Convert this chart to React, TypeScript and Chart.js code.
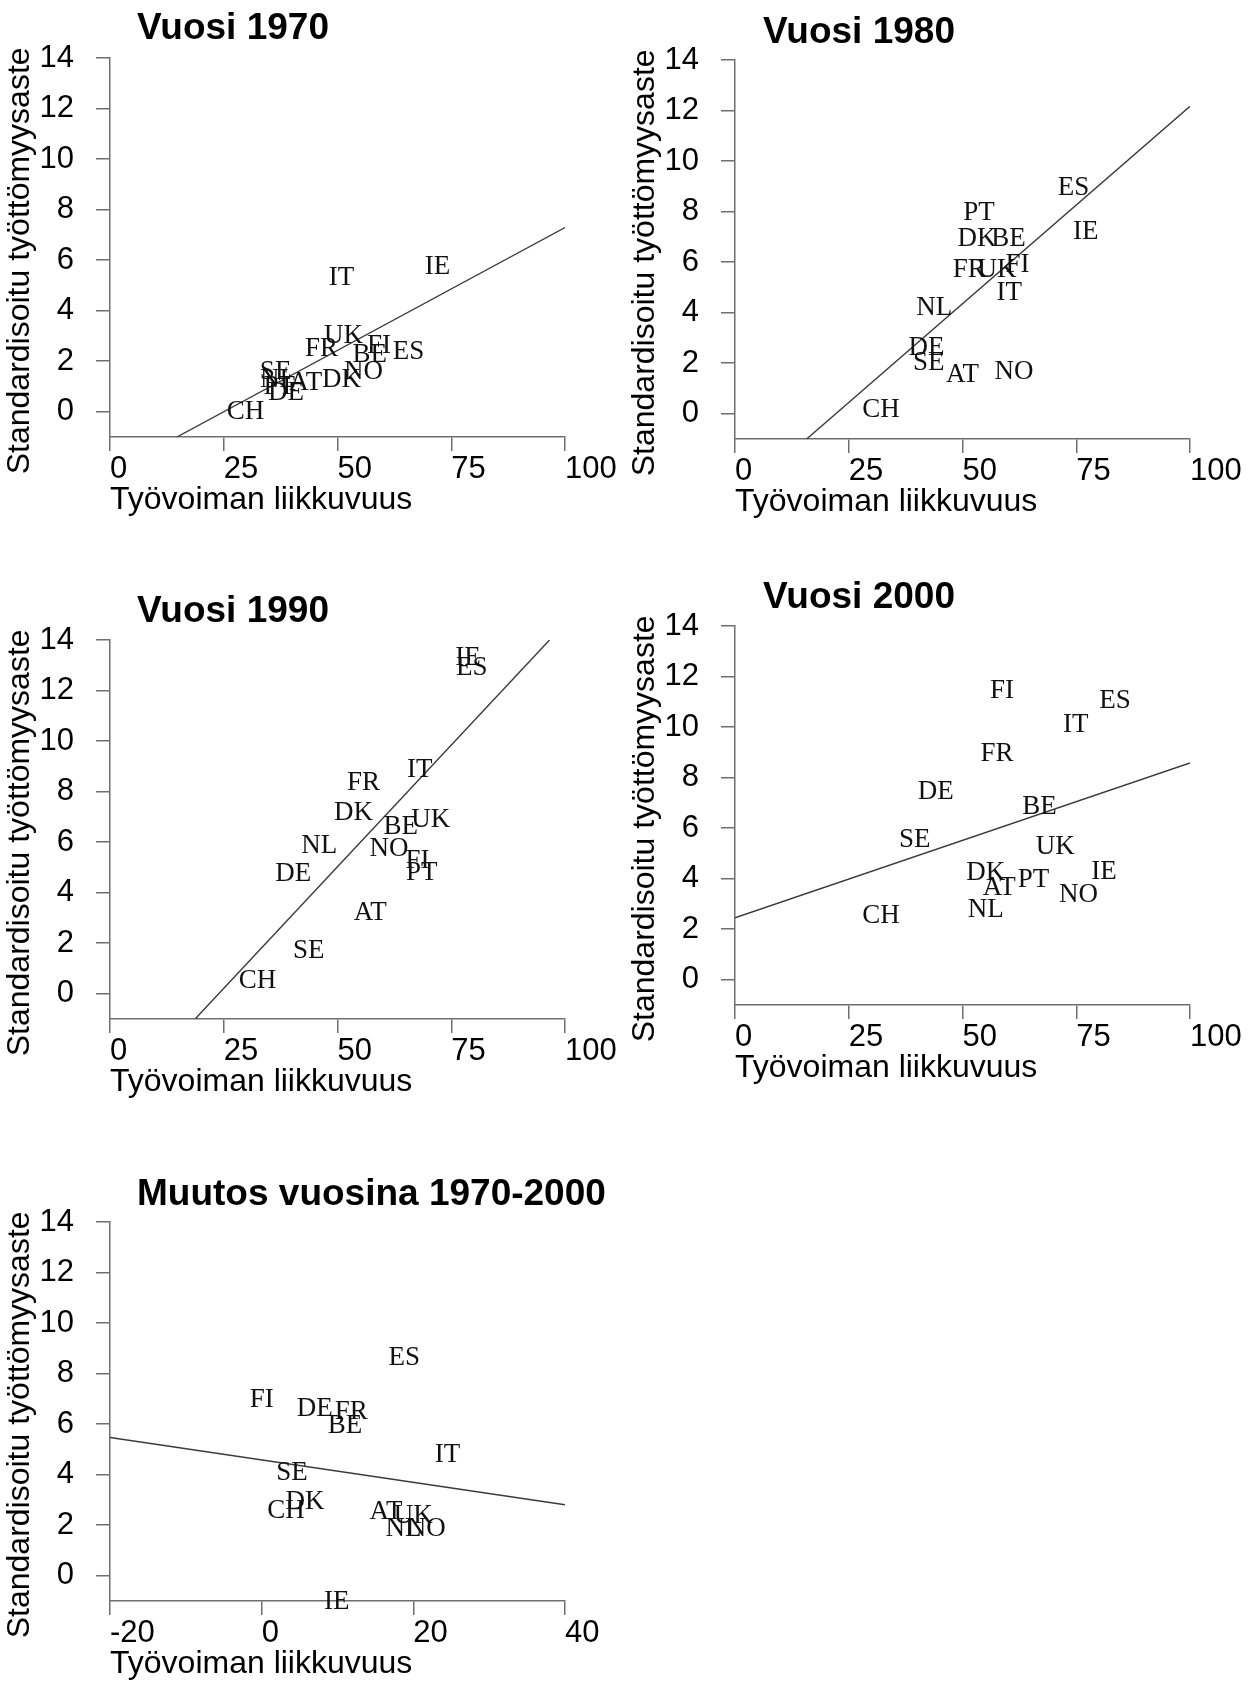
import React, { useEffect, useRef } from 'react';
import { Chart, registerables } from 'chart.js';

Chart.register(...registerables);

// ---------- tick labels ----------
const Y_TICKS = [0, 2, 4, 6, 8, 10, 12, 14];
const X_TICKS_LEVEL = [0, 25, 50, 75, 100];
const X_TICKS_CHANGE = [-20, 0, 20, 40];

const X_TITLE = 'Työvoiman liikkuvuus';
const Y_TITLE = 'Standardisoitu työttömyysaste';

// ---------- Vuosi 1970 ----------
const LABELS_1970 = ['IT', 'IE', 'UK', 'FR', 'FI', 'BE', 'ES', 'NO', 'DK', 'SE', 'NL', 'PT', 'AT', 'DE', 'CH'];
const X_1970 = [50.9, 72.0, 51.3, 46.5, 59.1, 57.1, 65.6, 55.7, 50.9, 36.4, 36.9, 37.2, 43.0, 38.7, 29.8];
const Y_1970 = [5.28, 5.75, 3.0, 2.47, 2.6, 2.23, 2.37, 1.57, 1.24, 1.57, 1.24, 0.97, 1.15, 0.74, 0.0];
const FIT_X_1970 = [14.7, 100];
const FIT_Y_1970 = [-1, 7.29];

// ---------- Vuosi 1980 ----------
const LABELS_1980 = ['ES', 'PT', 'DK', 'BE', 'IE', 'FR', 'UK', 'FI', 'IT', 'NL', 'DE', 'SE', 'AT', 'NO', 'CH'];
const X_1980 = [74.4, 53.6, 53.2, 60.1, 77.1, 51.5, 57.6, 62.1, 60.3, 43.8, 42.1, 42.6, 50.0, 61.3, 32.1];
const Y_1980 = [8.93, 7.95, 6.9, 6.9, 7.21, 5.7, 5.7, 5.9, 4.8, 4.2, 2.6, 2.02, 1.55, 1.66, 0.16];
const FIT_X_1980 = [15.75, 100];
const FIT_Y_1980 = [-1, 12.17];

// ---------- Vuosi 1990 ----------
const LABELS_1990 = ['IE', 'ES', 'IT', 'FR', 'DK', 'UK', 'BE', 'NL', 'NO', 'FI', 'PT', 'DE', 'AT', 'SE', 'CH'];
const X_1990 = [78.7, 79.5, 68.1, 55.7, 53.5, 70.5, 63.9, 46.0, 61.3, 67.6, 68.5, 40.3, 57.2, 43.7, 32.4];
const Y_1990 = [13.3, 12.91, 8.86, 8.35, 7.15, 6.88, 6.6, 5.85, 5.74, 5.24, 4.79, 4.76, 3.19, 1.69, 0.5];
const FIT_X_1990 = [18.7, 96.6];
const FIT_Y_1990 = [-1, 14];

// ---------- Vuosi 2000 ----------
const LABELS_2000 = ['FI', 'ES', 'IT', 'FR', 'DE', 'BE', 'SE', 'UK', 'DK', 'IE', 'AT', 'PT', 'NO', 'NL', 'CH'];
const X_2000 = [58.7, 83.5, 74.9, 57.6, 44.1, 66.9, 39.5, 70.4, 55.1, 81.1, 58.1, 65.6, 75.5, 55.1, 32.1];
const Y_2000 = [11.44, 11.03, 10.08, 8.95, 7.45, 6.85, 5.54, 5.27, 4.22, 4.25, 3.64, 3.95, 3.36, 2.76, 2.52];
const FIT_X_2000 = [0, 100];
const FIT_Y_2000 = [2.45, 8.58];

// ---------- Muutos vuosina 1970-2000 ----------
const LABELS_CHANGE = ['ES', 'FI', 'DE', 'FR', 'BE', 'IT', 'SE', 'DK', 'CH', 'AT', 'UK', 'NL', 'NO', 'IE'];
const X_CHANGE = [18.8, 0.0, 7.0, 11.8, 11.0, 24.5, 4.0, 5.7, 3.2, 16.4, 20.0, 18.7, 21.7, 9.9];
const Y_CHANGE = [8.64, 6.95, 6.62, 6.47, 5.94, 4.78, 4.06, 2.94, 2.57, 2.52, 2.35, 1.86, 1.86, -1.03];
const FIT_X_CHANGE = [-20, 40];
const FIT_Y_CHANGE = [5.47, 2.81];

// ---------- layout (positions, not data) ----------
const CHART_W = 455;
const CHART_H = 379;
const Y_SCALE_W = 110;
const X_SCALE_H = 90;
const PAD_TOP = 20;
const PAD_RIGHT = 60;

const SANS = '"Liberation Sans", Arial, Helvetica, sans-serif';
const SERIF = '"Liberation Serif", "Times New Roman", Times, serif';
const AXIS_COLOR = '#6f6f6f';

type Panel = {
  title: string;
  labels: string[];
  xs: number[];
  ys: number[];
  fitX: number[];
  fitY: number[];
  xTicks: number[];
  chartLeft: number;
  chartTop: number;
  titleLeft: number;
  titleBaseline: number;
};

const PANELS: Panel[] = [
  { title: 'Vuosi 1970', labels: LABELS_1970, xs: X_1970, ys: Y_1970, fitX: FIT_X_1970, fitY: FIT_Y_1970, xTicks: X_TICKS_LEVEL, chartLeft: 110, chartTop: 58, titleLeft: 137, titleBaseline: 39 },
  { title: 'Vuosi 1980', labels: LABELS_1980, xs: X_1980, ys: Y_1980, fitX: FIT_X_1980, fitY: FIT_Y_1980, xTicks: X_TICKS_LEVEL, chartLeft: 735, chartTop: 60, titleLeft: 763, titleBaseline: 43 },
  { title: 'Vuosi 1990', labels: LABELS_1990, xs: X_1990, ys: Y_1990, fitX: FIT_X_1990, fitY: FIT_Y_1990, xTicks: X_TICKS_LEVEL, chartLeft: 110, chartTop: 640, titleLeft: 137, titleBaseline: 622 },
  { title: 'Vuosi 2000', labels: LABELS_2000, xs: X_2000, ys: Y_2000, fitX: FIT_X_2000, fitY: FIT_Y_2000, xTicks: X_TICKS_LEVEL, chartLeft: 735, chartTop: 626, titleLeft: 763, titleBaseline: 608 },
  { title: 'Muutos vuosina 1970-2000', labels: LABELS_CHANGE, xs: X_CHANGE, ys: Y_CHANGE, fitX: FIT_X_CHANGE, fitY: FIT_Y_CHANGE, xTicks: X_TICKS_CHANGE, chartLeft: 110, chartTop: 1222, titleLeft: 137, titleBaseline: 1205 },
];

const textLabelPlugin = {
  id: 'textLabels',
  afterDatasetsDraw(chart: any) {
    const ctx = chart.ctx;
    chart.data.datasets.forEach((ds: any, i: number) => {
      if (!ds.textLabels) return;
      const meta = chart.getDatasetMeta(i);
      ctx.save();
      ctx.font = `27px ${SERIF}`;
      ctx.fillStyle = '#111';
      ctx.textAlign = 'center';
      ctx.textBaseline = 'middle';
      meta.data.forEach((el: any, j: number) => {
        ctx.fillText(ds.textLabels[j], el.x, el.y);
      });
      ctx.restore();
    });
  },
};

function PanelChart({ p }: { p: Panel }) {
  const ref = useRef<HTMLCanvasElement | null>(null);
  const width = Y_SCALE_W + CHART_W + PAD_RIGHT;
  const height = PAD_TOP + CHART_H + X_SCALE_H;

  useEffect(() => {
    if (!ref.current) return;
    const gridOpts = {
      display: true,
      drawOnChartArea: false,
      drawTicks: true,
      tickLength: 14,
      color: AXIS_COLOR,
      lineWidth: 1.5,
    };
    const borderOpts = { display: true, color: AXIS_COLOR, width: 1.5 };
    const xMin = p.xTicks[0];
    const xMax = p.xTicks[p.xTicks.length - 1];
    const chart = new Chart(ref.current, {
      type: 'scatter',
      data: {
        datasets: [
          {
            data: p.fitX.map((x, i) => ({ x, y: p.fitY[i] })),
            showLine: true,
            borderColor: '#3a3a3a',
            borderWidth: 1.4,
            pointRadius: 0,
            pointHoverRadius: 0,
            fill: false,
          } as any,
          {
            data: p.xs.map((x, i) => ({ x, y: p.ys[i] })),
            textLabels: p.labels,
            pointRadius: 0,
            pointHoverRadius: 0,
            showLine: false,
          } as any,
        ],
      },
      options: {
        animation: false,
        responsive: false,
        devicePixelRatio: 1,
        events: [],
        layout: { padding: { top: PAD_TOP, right: PAD_RIGHT, bottom: 0, left: 0 } },
        plugins: {
          legend: { display: false },
          tooltip: { enabled: false },
          title: { display: false },
        },
        scales: {
          x: {
            type: 'linear',
            min: xMin,
            max: xMax,
            afterBuildTicks: (s: any) => {
              s.ticks = p.xTicks.map((v) => ({ value: v }));
            },
            afterFit: (s: any) => {
              s.height = X_SCALE_H;
              s.paddingLeft = 0;
              s.paddingRight = 0;
              s.paddingTop = 0;
              s.paddingBottom = 0;
            },
            grid: gridOpts,
            border: borderOpts,
            ticks: {
              color: '#000',
              font: { family: SANS, size: 31 },
              padding: 0,
              align: 'start',
              maxRotation: 0,
              autoSkip: false,
              callback: (v: any) => String(v),
            },
            title: {
              display: true,
              text: X_TITLE,
              align: 'start',
              color: '#000',
              font: { family: SANS, size: 32 },
              padding: { top: 0, bottom: 8 },
            },
          },
          y: {
            type: 'linear',
            min: -1,
            max: 14,
            afterBuildTicks: (s: any) => {
              s.ticks = Y_TICKS.map((v) => ({ value: v }));
            },
            afterFit: (s: any) => {
              s.width = Y_SCALE_W;
              s.paddingTop = 0;
              s.paddingBottom = 0;
              s.paddingLeft = 0;
              s.paddingRight = 0;
            },
            grid: gridOpts,
            border: borderOpts,
            ticks: {
              color: '#000',
              font: { family: SANS, size: 31 },
              padding: 22,
              autoSkip: false,
              callback: (v: any) => String(v),
            },
            title: {
              display: true,
              text: Y_TITLE + '   ',
              color: '#000',
              font: { family: SANS, size: 32 },
              padding: { top: 1, bottom: 0 },
            },
          },
        },
      } as any,
      plugins: [textLabelPlugin],
    });
    return () => chart.destroy();
  }, [p]);

  return (
    <>
      <canvas
        ref={ref}
        width={width}
        height={height}
        style={{
          position: 'absolute',
          left: p.chartLeft - Y_SCALE_W,
          top: p.chartTop - PAD_TOP,
          width,
          height,
          display: 'block',
        }}
      />
      <div
        style={{
          position: 'absolute',
          left: p.titleLeft,
          top: p.titleBaseline - 31.3,
          fontFamily: SANS,
          fontWeight: 'bold',
          fontSize: 37,
          lineHeight: '37px',
          whiteSpace: 'nowrap',
          color: '#000',
        }}
      >
        {p.title}
      </div>
    </>
  );
}

export default function App() {
  return (
    <div
      style={{
        position: 'absolute',
        left: 0,
        top: 0,
        width: 1260,
        height: 1682,
        background: '#fff',
        overflow: 'hidden',
      }}
    >
      {PANELS.map((p) => (
        <PanelChart key={p.title} p={p} />
      ))}
    </div>
  );
}
